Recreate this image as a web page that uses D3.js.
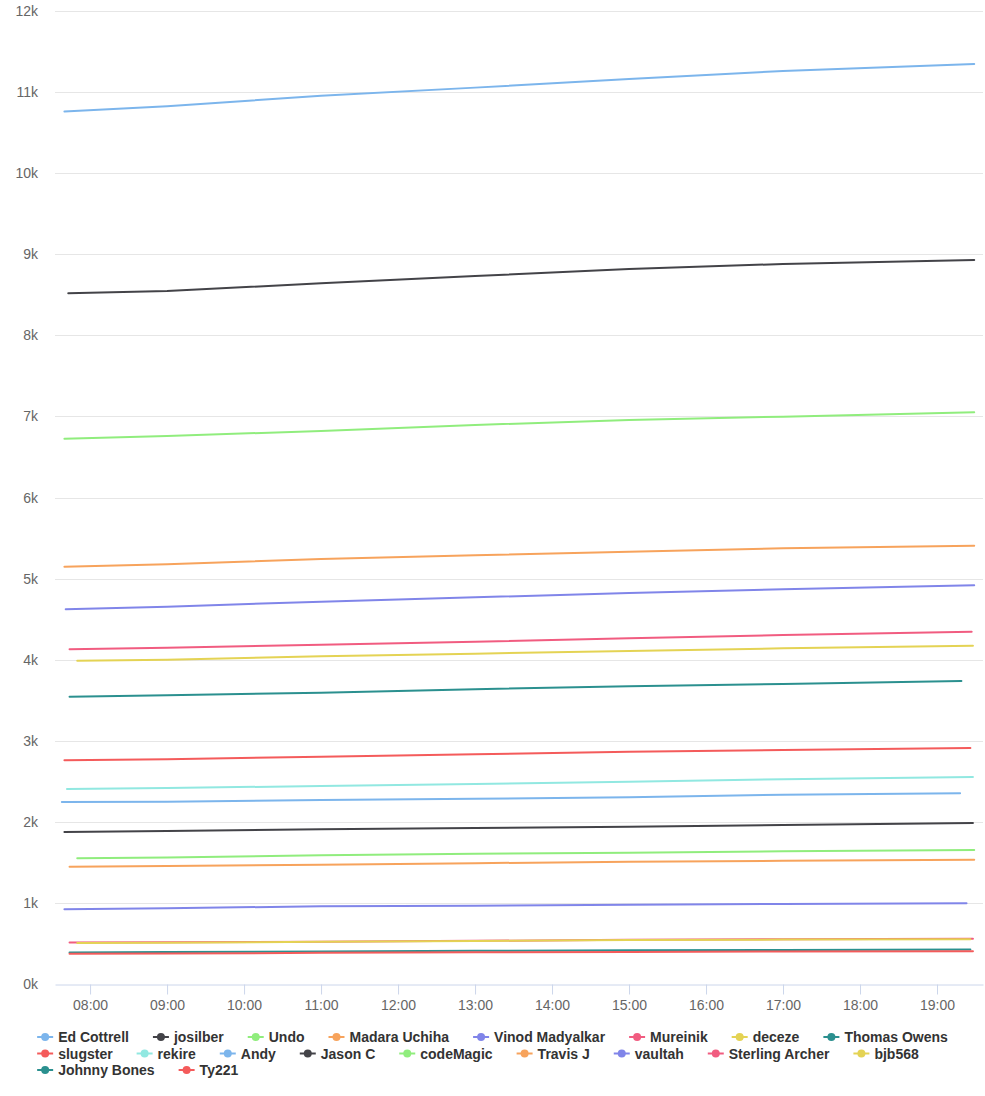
<!DOCTYPE html>
<html lang="en">
<head>
    <meta charset="UTF-8">
    <title>Reputation by hour</title>
    <script src="https://d3js.org/d3.v7.min.js"></script>
    <style>
        html, body { margin: 0; padding: 0; background: #fff; }
        svg { display: block; font-family: "Lucida Grande", "Lucida Sans Unicode", Arial, Helvetica, sans-serif; }
    </style>
</head>
<body>
    <div id="chart"></div>
    <script>

// series names, in legend order
const names = ["Ed Cottrell", "josilber", "Undo", "Madara Uchiha", "Vinod Madyalkar", "Mureinik", "deceze", "Thomas Owens",
    "slugster", "rekire", "Andy", "Jason C", "codeMagic", "Travis J", "vaultah", "Sterling Archer", "bjb568",
    "Johnny Bones", "Ty221"];

// first and last sample time of every series
const startTimes = ["07:40", "07:43", "07:40", "07:40", "07:41", "07:44", "07:50", "07:44",
    "07:40", "07:42", "07:38", "07:40", "07:50", "07:44", "07:40", "07:44", "07:50", "07:44", "07:44"];
const endTimes = ["19:29", "19:29", "19:29", "19:29", "19:29", "19:27", "19:28", "19:19",
    "19:26", "19:28", "19:18", "19:28", "19:29", "19:29", "19:23", "19:28", "19:26", "19:26", "19:28"];

// samples in between
const midTimes = ["09:00", "11:00", "13:00", "15:00", "17:00"];

// values: start, 09, 11, 13, 15, 17, end
const edCottrell = [10760, 10825, 10956, 11055, 11162, 11260, 11347];
const josilber = [8520, 8547, 8642, 8732, 8818, 8880, 8929];
const undo = [6725, 6759, 6820, 6894, 6956, 6997, 7051];
const madaraUchiha = [5147, 5176, 5242, 5287, 5332, 5373, 5406];
const vinodMadyalkar = [4621, 4654, 4715, 4769, 4822, 4868, 4917];
const mureinik = [4128, 4148, 4185, 4222, 4264, 4304, 4345];
const deceze = [3988, 4000, 4042, 4074, 4107, 4140, 4172];
const thomasOwens = [3543, 3561, 3593, 3635, 3672, 3700, 3737];
const slugster = [2759, 2771, 2803, 2833, 2865, 2886, 2911];
const rekire = [2405, 2417, 2442, 2467, 2495, 2525, 2553];
const andy = [2245, 2249, 2269, 2285, 2302, 2335, 2352];
const jasonC = [1875, 1887, 1908, 1924, 1940, 1961, 1986];
const codeMagic = [1550, 1560, 1588, 1605, 1620, 1637, 1653];
const travisJ = [1447, 1455, 1472, 1490, 1507, 1520, 1533];
const vaultah = [921, 935, 958, 965, 978, 987, 995];
const sterlingArcher = [512, 514, 522, 532, 545, 553, 559];
const bjb568 = [505, 510, 520, 530, 542, 548, 551];
const johnnyBones = [390, 395, 400, 410, 415, 420, 425];
const ty221 = [372, 375, 385, 392, 396, 400, 403];

const allValues = [edCottrell, josilber, undo, madaraUchiha, vinodMadyalkar, mureinik, deceze, thomasOwens,
    slugster, rekire, andy, jasonC, codeMagic, travisJ, vaultah, sterlingArcher, bjb568, johnnyBones, ty221];

const yTicks = [0, 1000, 2000, 3000, 4000, 5000, 6000, 7000, 8000, 9000, 10000, 11000, 12000];
const xTicks = ["08:00", "09:00", "10:00", "11:00", "12:00", "13:00", "14:00", "15:00", "16:00", "17:00", "18:00", "19:00"];
const xRange = ["07:32:40", "19:35:50"];

const palette = ["#7cb5ec", "#434348", "#90ed7d", "#f7a35c", "#8085e9", "#f15c80", "#e4d354", "#2b908f", "#f45b5b", "#91e8e1"];

const width = 985, height = 1096;
const margin = { top: 11, right: 2, bottom: 112, left: 55 };

const parseTime = d3.timeParse("%H:%M");
const parseSec = d3.timeParse("%H:%M:%S");

const series = names.map((name, i) => {
    const times = [startTimes[i], ...midTimes, endTimes[i]];
    return {
        name: name,
        color: palette[i % palette.length],
        points: times.map((t, j) => ({ t: parseTime(t), v: allValues[i][j] }))
    };
});

const svg = d3.select("#chart").append("svg")
    .attr("width", width)
    .attr("height", height);

const x = d3.scaleTime()
    .domain(xRange.map(parseSec))
    .range([margin.left, width - margin.right]);

const y = d3.scaleLinear()
    .domain([0, 12000])
    .range([height - margin.bottom, margin.top]);

// horizontal grid
svg.append("g")
    .selectAll("line")
    .data(yTicks.filter(d => d > 0))
    .enter().append("line")
    .attr("x1", margin.left)
    .attr("x2", width - margin.right)
    .attr("y1", d => Math.round(y(d)) + 0.5)
    .attr("y2", d => Math.round(y(d)) + 0.5)
    .attr("stroke", "#e6e6e6")
    .attr("stroke-width", 1);

// y labels
svg.append("g")
    .selectAll("text")
    .data(yTicks)
    .enter().append("text")
    .attr("x", 38)
    .attr("y", d => y(d) + 5)
    .attr("text-anchor", "end")
    .attr("fill", "#666666")
    .attr("font-size", "14px")
    .text(d => (d / 1000) + "k");

// x axis
const xAxis = d3.axisBottom(x)
    .tickValues(xTicks.map(parseTime))
    .tickFormat(d3.timeFormat("%H:%M"))
    .tickSizeInner(10)
    .tickSizeOuter(0)
    .tickPadding(6);

const gx = svg.append("g")
    .attr("transform", `translate(0,${Math.round(y(0)) + 0.5})`)
    .call(xAxis);
gx.select(".domain").attr("stroke", "#ccd6eb");
gx.selectAll(".tick line").attr("stroke", "#ccd6eb");
gx.selectAll(".tick text")
    .attr("fill", "#666666")
    .attr("font-size", "14px")
    .attr("font-family", null);
gx.attr("font-family", null);

// lines
const line = d3.line()
    .x(d => x(d.t))
    .y(d => y(d.v));

svg.append("g")
    .selectAll("path")
    .data(series)
    .enter().append("path")
    .attr("d", d => line(d.points))
    .attr("fill", "none")
    .attr("stroke", d => d.color)
    .attr("stroke-width", 2)
    .attr("stroke-linejoin", "round")
    .attr("stroke-linecap", "round");

// legend, flowing left to right and wrapping
const legend = svg.append("g");
const symbolWidth = 16, symbolPadding = 5, itemDistance = 24, rowHeight = 16.5, maxRow = 935;
let cx = 0, row = 0, rowWidths = [0];
const items = [];

series.forEach(s => {
    const g = legend.append("g");
    const label = g.append("text")
        .attr("x", symbolWidth + symbolPadding)
        .attr("y", 5)
        .attr("fill", "#333333")
        .attr("font-size", "14px")
        .attr("font-weight", "bold")
        .text(s.name);
    const w = symbolWidth + symbolPadding + label.node().getComputedTextLength();
    if (cx > 0 && cx + w > maxRow) {
        row += 1;
        cx = 0;
        rowWidths.push(0);
    }
    g.append("line")
        .attr("x1", 0).attr("x2", symbolWidth)
        .attr("y1", 0).attr("y2", 0)
        .attr("stroke", s.color)
        .attr("stroke-width", 2);
    g.append("circle")
        .attr("cx", symbolWidth / 2)
        .attr("cy", 0)
        .attr("r", 4)
        .attr("fill", s.color);
    items.push({ g: g, x: cx, row: row });
    rowWidths[row] = cx + w;
    cx += w + itemDistance;
});

const boxWidth = d3.max(rowWidths);
const left = (width - boxWidth) / 2;
items.forEach(it => it.g.attr("transform", `translate(${left + it.x},${1037 + it.row * rowHeight})`));

    </script>
</body>
</html>
